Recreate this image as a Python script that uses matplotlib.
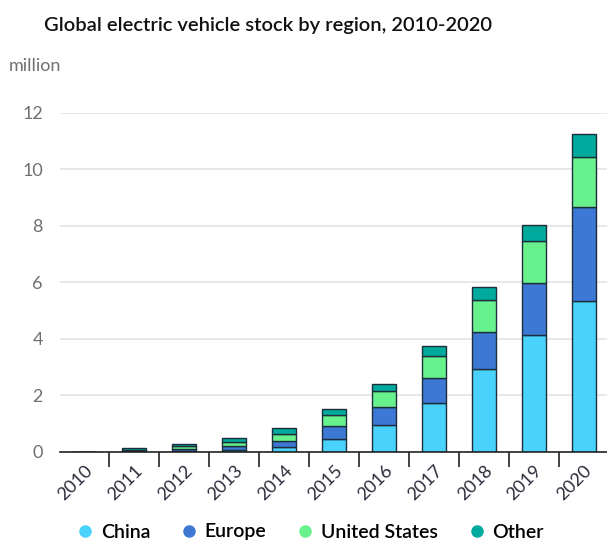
import matplotlib
matplotlib.use("Agg")
import matplotlib.pyplot as plt
from matplotlib.lines import Line2D
import numpy as np

years = ["2010", "2011", "2012", "2013", "2014", "2015",
         "2016", "2017", "2018", "2019", "2020"]
china = [0.00, 0.02, 0.03, 0.05, 0.16, 0.45, 0.95, 1.71, 2.91, 4.12, 5.34]
europe = [0.00, 0.02, 0.05, 0.13, 0.21, 0.45, 0.63, 0.88, 1.33, 1.84, 3.31]
united_states = [0.00, 0.03, 0.10, 0.17, 0.26, 0.40, 0.57, 0.78, 1.14, 1.49, 1.79]
other = [0.00, 0.04, 0.08, 0.12, 0.20, 0.19, 0.23, 0.36, 0.46, 0.57, 0.81]

series = [("China", china, "#48d2fc"),
          ("Europe", europe, "#3d78d4"),
          ("United States", united_states, "#68f28e"),
          ("Other", other, "#00aa9c")]

plt.rcParams["font.family"] = ["Lato", "DejaVu Sans"]

fig = plt.figure(figsize=(6.07, 5.41), dpi=100)
ax = fig.add_axes([59.5 / 607, 1 - 451.5 / 541, 1 - 59.5 / 607 + 0.003, (451.5 - 112.7) / 541])

x = np.arange(len(years))
bottom = np.zeros(len(years))
for name, vals, col in series:
    v = np.array(vals)
    ax.bar(x, v, width=0.48, bottom=bottom, color=col,
           edgecolor="#1c2e3a", linewidth=1.0, zorder=3)
    bottom += v

ax.set_xlim(-0.5, 10.5)
ax.set_ylim(0, 12)
ax.set_yticks(range(0, 13, 2))
ax.yaxis.grid(True, color="#e4e4e4", linewidth=1.2, zorder=0)
ax.set_axisbelow(True)
for s in ["top", "right", "left"]:
    ax.spines[s].set_visible(False)
ax.spines["bottom"].set_color("#222222")
ax.spines["bottom"].set_linewidth(1.2)
ax.spines["bottom"].set_zorder(4)

ax.tick_params(axis="y", length=0, pad=12, labelsize=13, labelcolor="#707070")
ax.set_xticks(x + 0.5, minor=False)
ax.set_xticklabels([])
ax.set_xticks(x, minor=True)
ax.set_xticklabels(years, minor=True, rotation=45, ha="right", va="top",
                   rotation_mode="anchor", fontsize=13, color="#2a2a3a")
ax.tick_params(axis="x", which="major", length=11, width=1.2, color="#222222")
ax.tick_params(axis="x", which="minor", length=0, pad=8)

fig.text(268.5 / 607, 1 - 25 / 541, "Global electric vehicle stock by region, 2010-2020",
         ha="center", va="center", fontsize=14.5, fontweight="semibold", color="#111111")
fig.text(9 / 607, 1 - 66 / 541, "million", ha="left", va="center",
         fontsize=13, color="#707070")

handles = [Line2D([], [], marker="o", linestyle="none", markersize=8,
                  markerfacecolor=col, markeredgecolor=col, label=name)
           for name, _, col in series]
fig.legend(handles=handles, loc="center", bbox_to_anchor=(0.51, 1 - 532 / 541),
           ncol=4, frameon=False, handletextpad=0.3,
           columnspacing=1.5, handlelength=1.0,
           prop={"size": 14, "weight": "semibold"})

fig.savefig("out.png", dpi=100)
